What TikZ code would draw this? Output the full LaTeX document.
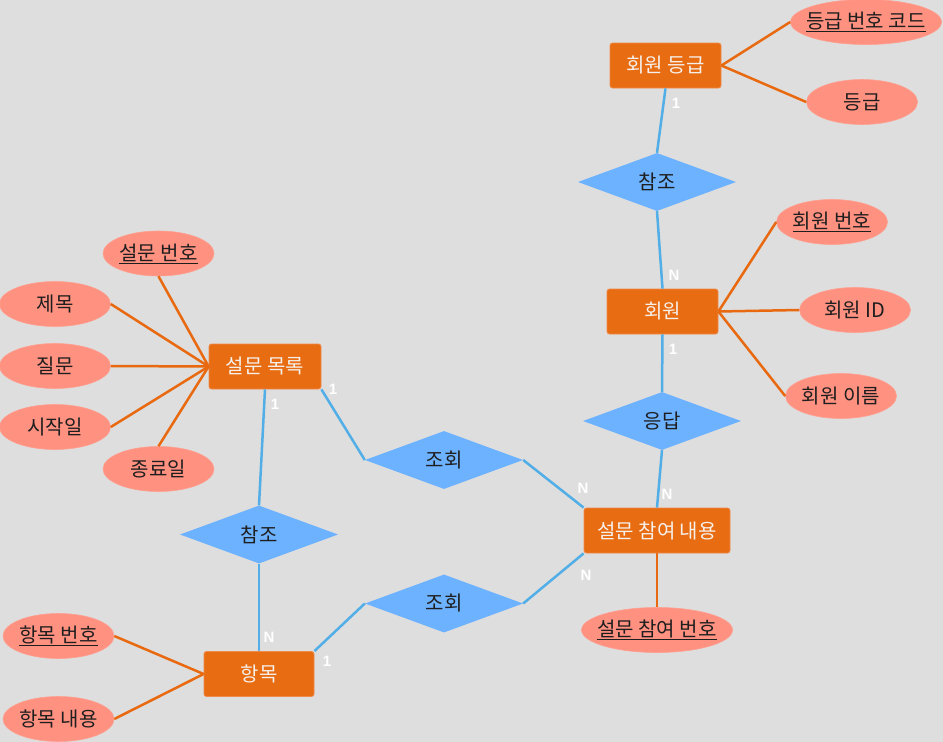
\documentclass[tikz,border=0pt]{standalone}
\usepackage{fontspec}
\setmainfont{Noto Sans CJK KR}
\newfontfamily\labfont{Liberation Sans}
\usetikzlibrary{shapes.geometric}
\definecolor{bgc}{HTML}{DEDEDE}
\definecolor{entc}{HTML}{E86C12}
\definecolor{entb}{HTML}{F08A4A}
\definecolor{attc}{HTML}{FF9181}
\definecolor{attb}{HTML}{FFA090}
\definecolor{relc}{HTML}{6CB2FF}
\definecolor{bline}{HTML}{52AEE6}
\definecolor{oline}{HTML}{E8690F}
\definecolor{txtc}{HTML}{1E1E1E}
\definecolor{enttxt}{HTML}{F6F0EA}
\newcommand{\attxt}[1]{\makebox[0pt]{#1}}
\begin{document}
\begin{tikzpicture}[x=1pt,y=-1pt,
  entity/.style={rectangle, rounded corners=2.5pt, fill=entc, draw=entb, line width=0.8pt,
    text=enttxt, font=\fontsize{20}{24}\selectfont, minimum width=#1, minimum height=45pt, inner sep=0pt},
  entity/.default=111pt,
  attr/.style={ellipse, fill=attc, draw=attb, line width=0.6pt, text=txtc,
    font=\fontsize{20}{24}\selectfont, minimum width=#1, minimum height=45pt, inner sep=0pt},
  attr/.default=111pt,
  rel/.style={diamond, fill=relc, text=txtc, font=\fontsize{20}{24}\selectfont,
    minimum width=158pt, minimum height=58pt, inner sep=0pt},
  ol/.style={draw=oline, line width=2.5pt},
  bl/.style={draw=bline, line width=2.5pt},
  card/.style={text=white, font=\labfont\bfseries\fontsize{15}{17}\selectfont, inner sep=0pt}
]
\fill[bgc] (0,0) rectangle (943,742);
\useasboundingbox (0,0) rectangle (943,742);

% entities
\node[entity] (grade) at (665.5,65.5) {회원 등급};
\node[entity] (member) at (662.5,311.5) {회원};
\node[entity=146pt] (resp) at (657,530.5) {설문 참여 내용};
\node[entity=112pt] (survey) at (265,366.5) {설문 목록};
\node[entity=110pt] (item) at (259,674) {항목};

% attributes
\node[attr=151pt] (gcode) at (866,22) {\attxt{\underline{등급 번호 코드}}};
\node[attr] (gname) at (862,102) {\attxt{등급}};
\node[attr] (mno) at (832,222) {\attxt{\underline{회원 번호}}};
\node[attr] (mid) at (855,310) {\attxt{회원 ID}};
\node[attr] (mname) at (841,396) {\attxt{회원 이름}};
\node[attr=151pt] (rno) at (657,630) {\attxt{\underline{설문 참여 번호}}};
\node[attr] (sno) at (158.5,253.5) {\attxt{\underline{설문 번호}}};
\node[attr] (stitle) at (55,304) {\attxt{제목}};
\node[attr] (squest) at (55,366) {\attxt{질문}};
\node[attr] (sstart) at (55,427) {\attxt{시작일}};
\node[attr] (send) at (158.5,469) {\attxt{종료일}};
\node[attr] (ino) at (58.5,636) {\attxt{\underline{항목 번호}}};
\node[attr] (icont) at (58.5,719) {\attxt{항목 내용}};

% relationships
\node[rel] (ref1) at (657,182) {참조};
\node[rel] (answer) at (662,421) {응답};
\node[rel] (view1) at (444,460) {조회};
\node[rel] (view2) at (444,603.5) {조회};
\node[rel] (ref2) at (259,534.5) {참조};

% attribute links
\draw[ol] (grade.east) -- (gcode.west);
\draw[ol] (grade.east) -- (gname.west);
\draw[ol] (member.east) -- (mno.west);
\draw[ol] (member.east) -- (mid.west);
\draw[ol] (member.east) -- (mname.west);
\draw[ol] (resp.south) -- (rno.north);
\draw[ol] (survey.west) -- (sno.south);
\draw[ol] (survey.west) -- (stitle.east);
\draw[ol] (survey.west) -- (squest.east);
\draw[ol] (survey.west) -- (sstart.east);
\draw[ol] (survey.west) -- (send.north);
\draw[ol] (item.west) -- (ino.east);
\draw[ol] (item.west) -- (icont.east);

% relationship links
\draw[bl] (grade.south) -- (ref1.north);
\draw[bl] (ref1.south) -- (member.north);
\draw[bl] (member.south) -- (answer.north);
\draw[bl] (answer.south) -- (resp.north);
\draw[bl] (survey.south) -- (ref2.north);
\draw[bl] (ref2.south) -- (item.north);
\draw[bl] (survey.south east) -- (view1.west);
\draw[bl] (view1.east) -- (resp.north west);
\draw[bl] (view2.east) -- (resp.south west);
\draw[bl] (item.north east) -- (view2.west);

% cardinalities
\node[card] (c1) at (676,103) {1};
\node[card] (c2) at (674,275) {N};
\node[card] (c3) at (673,349) {1};
\node[card] (c4) at (667,494) {N};
\node[card] (c5) at (275,404) {1};
\node[card] (c6) at (269,637) {N};
\node[card] (c7) at (333,389) {1};
\node[card] (c8) at (583,488) {N};
\node[card] (c9) at (586,575) {N};
\node[card] (c10) at (327,661) {1};
\end{tikzpicture}
\end{document}
